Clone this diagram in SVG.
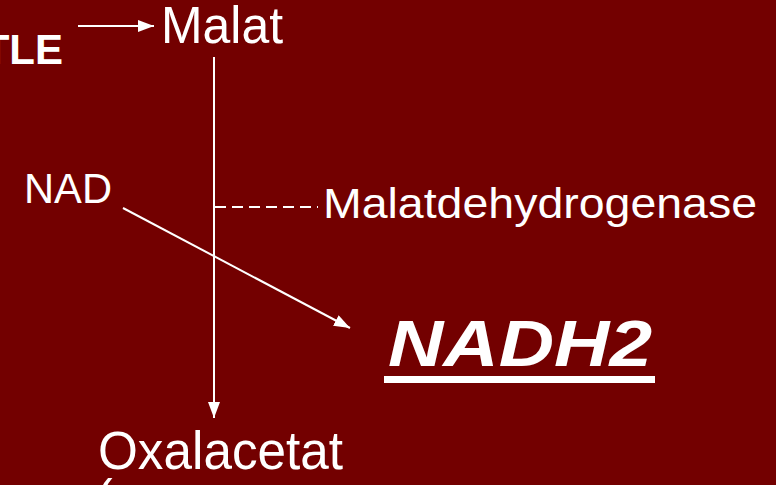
<svg xmlns="http://www.w3.org/2000/svg" width="776" height="485" viewBox="0 0 776 485">
  <defs>
    <style>
      .t { font-family: "Liberation Sans", Arial, sans-serif; fill: #ffffff; }
      .ln { stroke: #ffffff; stroke-width: 2; fill: none; }
    </style>
    <marker id="ah" viewBox="0 0 16 12" refX="16" refY="6" markerWidth="16" markerHeight="12" markerUnits="userSpaceOnUse" orient="auto">
      <path d="M0,0 L16,6 L0,12 Z" fill="#ffffff"/>
    </marker>
  </defs>
  <rect x="0" y="0" width="776" height="485" fill="#730000"/>

  <g id="connectors">
    <line class="ln" x1="78" y1="26" x2="154" y2="26" marker-end="url(#ah)"/>
    <line class="ln" x1="214" y1="57" x2="214" y2="418" marker-end="url(#ah)"/>
    <line class="ln" x1="123" y1="208" x2="350" y2="328" marker-end="url(#ah)"/>
    <line class="ln" x1="215" y1="207" x2="318" y2="207" stroke-dasharray="11 6"/>
  </g>

  <g id="tle">
    <text class="t" x="63" y="64" font-size="42" font-weight="bold" text-anchor="end">TLE</text>
  </g>
  <g id="malat">
    <text class="t" x="161" y="43" font-size="52" textLength="122" lengthAdjust="spacingAndGlyphs">Malat</text>
  </g>
  <g id="nad">
    <text class="t" x="24" y="203" font-size="43" textLength="88" lengthAdjust="spacingAndGlyphs">NAD</text>
  </g>
  <g id="malatdehydrogenase">
    <text class="t" x="323" y="218" font-size="43" textLength="434" lengthAdjust="spacingAndGlyphs">Malatdehydrogenase</text>
  </g>
  <g id="nadh2">
    <text class="t" x="388" y="366" font-size="64" font-weight="bold" font-style="italic" textLength="264" lengthAdjust="spacingAndGlyphs">NADH2</text>
    <rect x="384" y="376" width="271" height="7" fill="#ffffff"/>
  </g>
  <g id="oxalacetat">
    <text class="t" x="98" y="469" font-size="54" textLength="245" lengthAdjust="spacingAndGlyphs">Oxalacetat</text>
  </g>
  <g id="cut">
    <text class="t" x="96" y="514" font-size="50">(</text>
  </g>
</svg>
